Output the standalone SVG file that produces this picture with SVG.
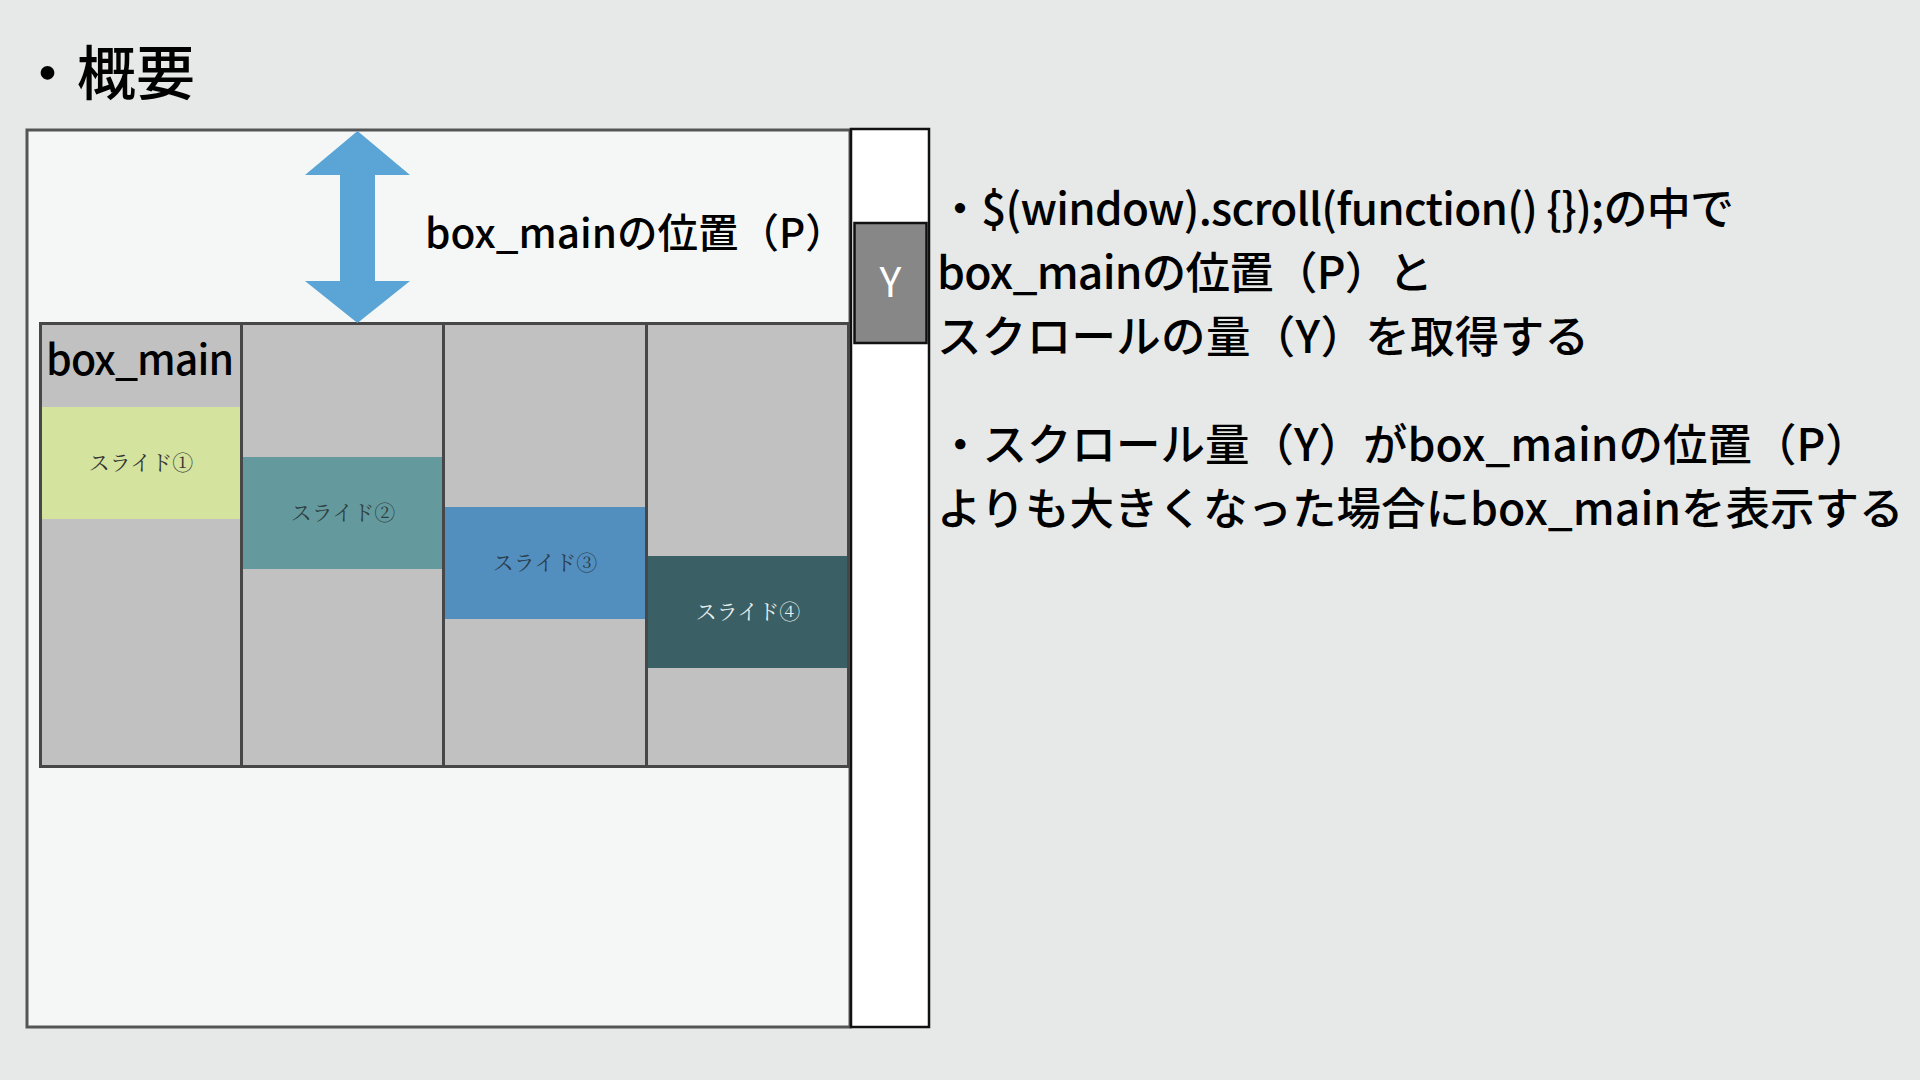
<svg xmlns="http://www.w3.org/2000/svg" width="1920" height="1080" viewBox="0 0 1920 1080">
<style>
.jp{font-family:"Noto Sans CJK JP","Noto Sans",sans-serif;fill:#000;font-weight:500}
.sl{font-family:"Noto Serif CJK JP","Liberation Serif","Noto Sans CJK JP",serif;font-size:21px;text-anchor:middle}
.col{fill:#c0c1c0;stroke:#474747;stroke-width:3}
</style>
<rect x="0" y="0" width="1920" height="1080" fill="#e6e9e8"/>
<g id="title"><text class="jp" x="18" y="95" font-size="59">・概要</text></g>
<g id="window">
<rect x="27" y="130" width="823" height="897" fill="#f5f7f6" stroke="#555" stroke-width="3"/>
</g>
<g id="scrollbar">
<rect x="851" y="129" width="78" height="898" fill="#ffffff" stroke="#111" stroke-width="2.5"/>
</g>
<g id="thumb">
<rect x="854.5" y="223" width="72" height="120" fill="#878787" stroke="#111" stroke-width="2.5"/>
<text class="jp" x="890.5" y="297" font-size="41" style="fill:#fff;font-weight:400" text-anchor="middle">Y</text>
</g>
<g id="col1"><rect class="col" x="40.5" y="323.5" width="201" height="443"/></g>
<g id="col2"><rect class="col" x="241.5" y="323.5" width="202" height="443"/></g>
<g id="col3"><rect class="col" x="443.5" y="323.5" width="203" height="443"/></g>
<g id="col4"><rect class="col" x="646.5" y="323.5" width="202" height="443"/></g>
<g id="box_main_label"><text class="jp" x="46" y="375" font-size="41" textLength="188">box_main</text></g>
<g id="slide1">
<rect x="42" y="407" width="198" height="112" fill="#d4e39e"/>
<text class="sl" x="141" y="470" fill="#333">スライド①</text>
</g>
<g id="slide2">
<rect x="243" y="457" width="199" height="112" fill="#649a9e"/>
<text class="sl" x="343" y="520" fill="#2f3f40">スライド②</text>
</g>
<g id="slide3">
<rect x="445" y="507" width="200" height="112" fill="#528fbf"/>
<text class="sl" x="545" y="570" fill="#2a3c4a">スライド③</text>
</g>
<g id="slide4">
<rect x="648" y="556" width="199" height="112" fill="#3a6065"/>
<text class="sl" x="748" y="619" fill="#e8eeee">スライド④</text>
</g>
<g id="connectors">
<polygon points="357.5,131 410,175 375,175 375,281 410,281 357.5,323 305,281 340,281 340,175 305,175" fill="#5ba4d6"/>
</g>
<g id="p_label"><text class="jp" x="425" y="248" font-size="40.5">box_mainの位置（P）</text></g>
<g id="notes">
<text class="jp" x="938" y="225" font-size="44" textLength="796">・$(window).scroll(function() {});の中で</text>
<text class="jp" x="937" y="289" font-size="44.5" textLength="496">box_mainの位置（P）と</text>
<text class="jp" x="937" y="353" font-size="44.5" textLength="652">スクロールの量（Y）を取得する</text>
<text class="jp" x="938" y="461" font-size="44.5">・スクロール量（Y）がbox_mainの位置（P）</text>
<text class="jp" x="937" y="525" font-size="44.5">よりも大きくなった場合にbox_mainを表示する</text>
</g>
</svg>
